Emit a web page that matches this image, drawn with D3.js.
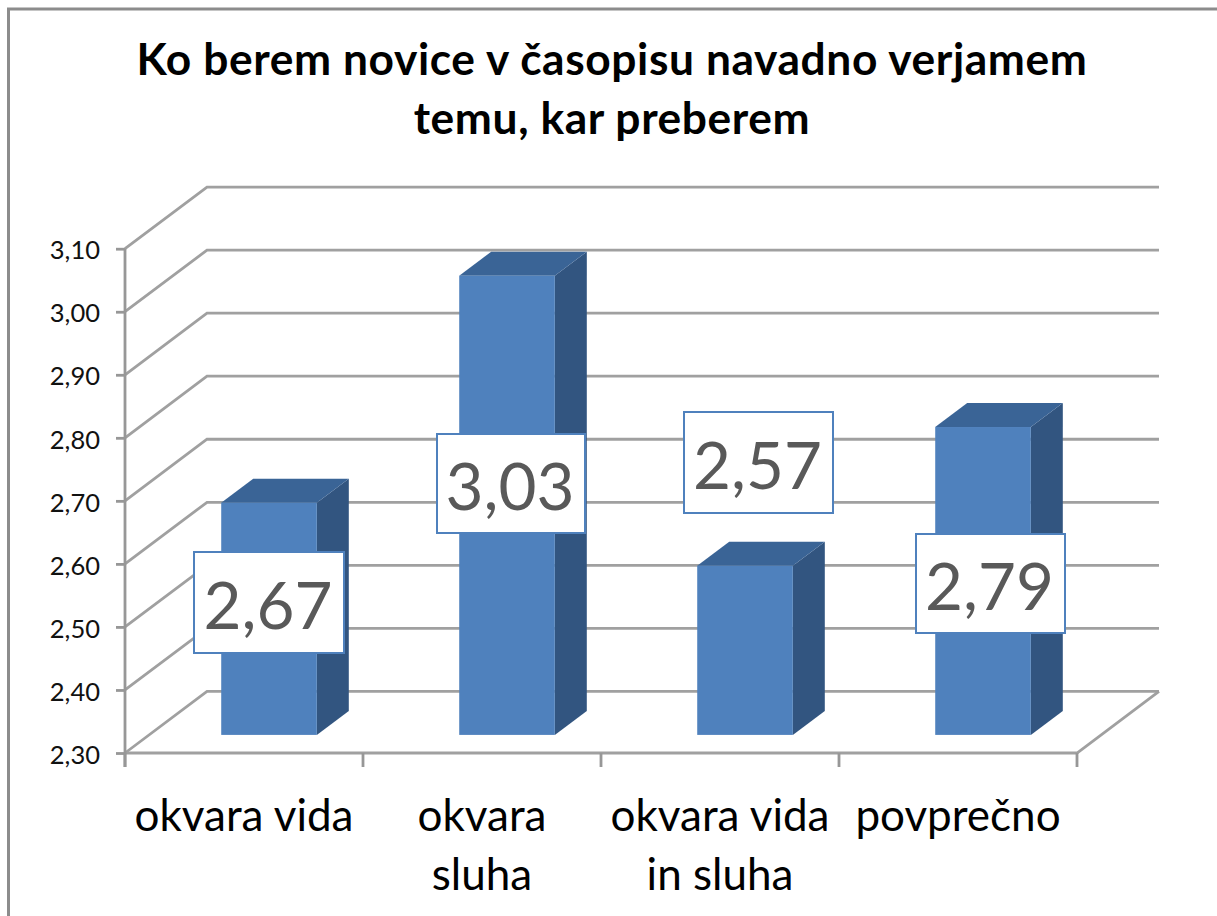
<!DOCTYPE html>
<html><head><meta charset="utf-8">
<script src="https://cdn.jsdelivr.net/npm/d3@7/dist/d3.min.js"></script>
<style>html,body{margin:0;padding:0;background:#fff;overflow:hidden}svg{display:block}text{font-family:Lato,"Open Sans",sans-serif}</style>
</head><body><svg id="c" width="1217" height="916"></svg>
<script>
const titleLines = ["Ko berem novice v časopisu navadno verjamem", "temu, kar preberem"];
const categories = [["okvara vida"], ["okvara", "sluha"], ["okvara vida", "in sluha"], ["povprečno"]];
const values = [2.67, 3.03, 2.57, 2.79];
const valueLabels = ["2,67", "3,03", "2,57", "2,79"];
const tickValues = [2.3, 2.4, 2.5, 2.6, 2.7, 2.8, 2.9, 3.0, 3.1];

// layout, kept apart from the data
const labelBoxes = [[194,552,150,101],[437,434,148,99],[684,412,149,101],[916,534,149,99]];
const depth = {x: 82, y: -61.6};
const barFront = 0.31, barDepth = 0.39; // fractions of floor depth

const svg = d3.select("#c");
const y = d3.scaleLinear().domain([2.3, 3.1]).range([753, 248.7]);
const x = d3.scaleBand().domain(d3.range(categories.length)).range([125, 1077]);
const fmt = d3.format(".2f");
const GRID = "#a0a0a0", AXIS = "#979797";

// frame
svg.append("rect").attr("x", 8.5).attr("y", 9).attr("width", 1300).attr("height", 1000)
  .attr("fill", "#fff").attr("stroke", "#8c8c8c").attr("stroke-width", 3);

// title
svg.append("g").selectAll("text").data(titleLines).join("text")
  .attr("x", 612).attr("y", (d, i) => 75 + i * 59)
  .attr("text-anchor", "middle").attr("font-size", 44.3).attr("letter-spacing", 0.6).attr("font-weight", 700).attr("fill", "#000")
  .text(d => d);

// walls
const grid = svg.append("g").attr("fill", "none").attr("stroke", GRID).attr("stroke-width", 2.8);
grid.selectAll("path").data(tickValues).join("path")
  .attr("d", d => { const p = d3.path(); const v = y(d);
    p.moveTo(x.range()[0], v); p.lineTo(x.range()[0] + depth.x, v + depth.y); p.lineTo(x.range()[1] + depth.x, v + depth.y); return p; });
// floor right edge and front edge
const floor = d3.path();
floor.moveTo(x.range()[0], y(2.3)); floor.lineTo(x.range()[1], y(2.3)); floor.lineTo(x.range()[1] + depth.x, y(2.3) + depth.y);
svg.append("path").attr("d", floor).attr("fill", "none").attr("stroke", GRID).attr("stroke-width", 2.8);

// y axis
const yAxis = svg.append("g").attr("transform", `translate(${x.range()[0]},0)`)
  .call(d3.axisLeft(y).tickValues(tickValues).tickSize(9).tickPadding(12).tickFormat(d => fmt(d).replace(".", ",")));
yAxis.selectAll("path,line").attr("stroke", AXIS).attr("stroke-width", 2.8);
yAxis.select("path").attr("d", `M0,${y(2.3) + 14}V${y(3.1)}`);
yAxis.selectAll("text").attr("font-size", 25.5).attr("fill", "#111").attr("x", -25).attr("dy", "0.4em").attr("text-anchor", "end");

// x axis ticks
svg.append("g").selectAll("line").data(d3.range(categories.length + 1)).join("line")
  .attr("x1", i => x.range()[0] + i * x.step()).attr("x2", i => x.range()[0] + i * x.step())
  .attr("y1", y(2.3)).attr("y2", y(2.3) + 14).attr("stroke", AXIS).attr("stroke-width", 2.8);

// 3D bars
const bw = 95.6;
const dx0 = depth.x * barFront - 0.4, dy0 = depth.y * barFront + 1, dx = depth.x * barDepth, dy = depth.y * barDepth;
const bars = svg.append("g").selectAll("g").data(values).join("g");
const L = (d, i) => x(i) + x.bandwidth() / 2 - bw / 2 + dx0;
const T = d => y(d) + dy0 + 1;
const B = () => y(2.3) + dy0;
bars.append("path").attr("fill", "#325580")
  .attr("d", (d, i) => { const r = L(d, i) + bw; return `M${r},${T(d)}L${r + dx},${T(d) + dy}L${r + dx},${B() + dy}L${r},${B()}Z`; });
bars.append("path").attr("fill", "#3a6496")
  .attr("d", (d, i) => { const l = L(d, i), r = l + bw; return `M${l},${T(d)}L${l + dx},${T(d) + dy}L${r + dx},${T(d) + dy}L${r},${T(d)}Z`; });
bars.append("rect").attr("fill", "#4f81bd")
  .attr("x", L).attr("y", T).attr("width", bw).attr("height", d => B() - T(d));

// data label boxes
const lab = svg.append("g").selectAll("g").data(valueLabels).join("g");
lab.append("rect").attr("fill", "#fff").attr("stroke", "#4f81bd").attr("stroke-width", 2)
  .attr("x", (d, i) => labelBoxes[i][0]).attr("y", (d, i) => labelBoxes[i][1])
  .attr("width", (d, i) => labelBoxes[i][2]).attr("height", (d, i) => labelBoxes[i][3]);
lab.append("text").attr("text-anchor", "middle").attr("font-size", 65.5).attr("fill", "#595959")
  .attr("x", (d, i) => labelBoxes[i][0] + labelBoxes[i][2] / 2 - 1)
  .attr("y", (d, i) => labelBoxes[i][1] + labelBoxes[i][3] / 2 + 26.5)
  .text(d => d);

// category labels
const labelX = [244, 482, 720, 958];
const cat = svg.append("g").selectAll("text").data(categories).join("text")
  .attr("text-anchor", "middle").attr("font-size", 44).attr("fill", "#000");
cat.selectAll("tspan").data((d, i) => d.map(t => ({t, i}))).join("tspan")
  .attr("x", d => labelX[d.i]).attr("y", (d, j) => 831 + j * 59).text(d => d.t);
</script></body></html>
